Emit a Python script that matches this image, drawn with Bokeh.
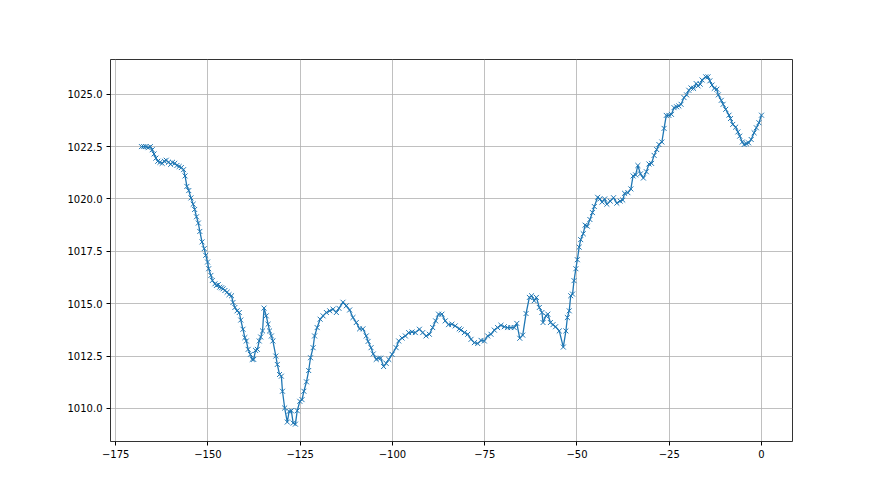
from bokeh.plotting import figure
from bokeh.models import Range1d, FixedTicker, CustomJSTickFormatter, ColumnDataSource
from bokeh.embed import file_html
from bokeh.resources import INLINE

hours = [
    -168.0, -167.4, -166.8, -166.2, -165.6, -165.1, -164.6, -164.1, -163.6, -163.0,
    -162.4, -161.8, -161.3, -160.7, -160.1, -159.6, -159.0, -158.4, -157.8, -157.2,
    -156.6, -156.2, -155.7, -155.2, -154.6, -154.0, -153.6, -153.1, -152.6, -152.2,
    -151.6, -151.0, -150.6, -150.1, -149.8, -149.2, -148.8, -148.1, -147.7, -147.2,
    -146.8, -146.3, -145.9, -145.4, -144.8, -144.3, -143.6, -143.2, -142.7, -142.1,
    -141.5, -141.1, -140.5, -140.0, -139.6, -139.1, -138.5, -138.0, -137.6, -137.1,
    -136.6, -136.1, -135.7, -135.2, -134.8, -134.2, -133.7, -133.3, -132.8, -132.4,
    -131.6, -131.2, -130.6, -130.1, -129.8, -129.2, -128.5, -128.0, -127.4, -126.9,
    -126.3, -125.8, -125.1, -124.5, -124.0, -123.3, -122.7, -122.2, -121.5, -121.1,
    -120.4, -119.6, -118.8, -117.9, -117.0, -116.1, -115.2, -114.5, -113.4, -112.5,
    -111.6, -110.7, -109.8, -108.9, -108.0, -107.1, -106.6, -105.8, -105.2, -104.4,
    -103.8, -103.2, -102.4, -101.7, -101.0, -100.1, -99.0, -98.3, -97.4, -96.5,
    -95.6, -94.7, -93.8, -92.7, -91.8, -90.9, -90.0, -89.1, -88.3, -87.5,
    -86.6, -85.7, -84.8, -83.9, -83.0, -81.9, -81.4, -80.5, -79.6, -78.7,
    -77.8, -76.9, -76.0, -75.1, -74.2, -73.3, -72.4, -71.5, -70.6, -69.7,
    -68.8, -67.9, -67.0, -66.3, -65.5, -64.7, -63.8, -62.9, -62.3, -61.6,
    -61.0, -60.2, -59.5, -59.2, -58.4, -57.9, -57.2, -56.5, -55.8, -54.8,
    -53.7, -53.0, -52.6, -52.1, -51.7, -51.2, -50.8, -50.3, -49.9, -49.4,
    -49.0, -48.3, -47.8, -47.2, -46.5, -45.8, -45.3, -44.4, -43.8, -43.2,
    -42.5, -41.9, -41.0, -40.1, -39.2, -38.3, -37.6, -37.1, -36.2, -35.4,
    -34.8, -34.1, -33.5, -32.8, -32.0, -31.2, -30.5, -29.8, -29.1, -28.4,
    -27.8, -27.0, -26.4, -25.8, -25.1, -24.4, -23.7, -23.0, -22.4, -21.8,
    -21.0, -20.3, -19.7, -19.1, -18.4, -17.7, -17.2, -16.6, -16.1, -15.1,
    -14.5, -14.0, -13.4, -12.8, -12.1, -11.7, -10.9, -10.4, -9.7, -8.8,
    -8.4, -7.8, -7.0, -6.4, -5.9, -5.2, -4.7, -4.1, -3.5, -2.8,
    -2.0, -1.4, -0.7, 0.0,
]

pressure = [
    1022.5, 1022.5, 1022.5, 1022.45, 1022.5, 1022.35, 1022.15, 1021.95, 1021.8, 1021.75,
    1021.7, 1021.8, 1021.85, 1021.75, 1021.65, 1021.75, 1021.7, 1021.6, 1021.55, 1021.5,
    1021.4, 1021.1, 1020.6, 1020.4, 1020.05, 1019.75, 1019.5, 1019.15, 1018.85, 1018.45,
    1017.95, 1017.63, 1017.31, 1016.99, 1016.67, 1016.35, 1016.11, 1015.95, 1015.87, 1015.91,
    1015.79, 1015.76, 1015.71, 1015.63, 1015.55, 1015.43, 1015.38, 1015.06, 1014.82, 1014.66,
    1014.58, 1014.22, 1013.78, 1013.38, 1013.22, 1012.82, 1012.58, 1012.34, 1012.34, 1012.77,
    1012.82, 1013.22, 1013.41, 1013.70, 1014.79, 1014.42, 1014.02, 1013.70, 1013.46, 1013.22,
    1012.50, 1012.10, 1011.62, 1011.54, 1010.82, 1010.02, 1009.35, 1009.86, 1009.89, 1009.30,
    1009.25, 1009.89, 1010.34, 1010.42, 1010.82, 1011.27, 1011.81, 1012.42, 1012.9, 1013.46,
    1013.86, 1014.26, 1014.42, 1014.58, 1014.66, 1014.74, 1014.58, 1014.78, 1015.07, 1014.9,
    1014.7, 1014.34, 1014.1, 1013.8, 1013.8, 1013.46, 1013.2, 1012.9, 1012.6, 1012.34,
    1012.4, 1012.4, 1012.0, 1012.15, 1012.34, 1012.58, 1012.9, 1013.22, 1013.36, 1013.46,
    1013.62, 1013.65, 1013.62, 1013.78, 1013.62, 1013.46, 1013.54, 1013.86, 1014.18, 1014.5,
    1014.5, 1014.18, 1014.0, 1014.02, 1013.94, 1013.8, 1013.75, 1013.62, 1013.54, 1013.3,
    1013.14, 1013.1, 1013.25, 1013.22, 1013.46, 1013.54, 1013.74, 1013.86, 1013.97, 1013.9,
    1013.86, 1013.86, 1013.86, 1014.06, 1013.35, 1013.5, 1014.53, 1015.3, 1015.38, 1015.14,
    1015.3, 1014.82, 1014.58, 1014.1, 1014.42, 1014.5, 1014.1, 1014.0, 1013.9, 1013.7,
    1012.93, 1013.7, 1014.34, 1014.66, 1015.38, 1015.46, 1016.1, 1016.67, 1017.1, 1017.7,
    1018.06, 1018.34, 1018.75, 1018.7, 1019.02, 1019.35, 1019.64, 1020.08, 1020.0, 1019.85,
    1020.0, 1019.75, 1019.9, 1020.06, 1019.8, 1019.9, 1019.95, 1020.27, 1020.3, 1020.48,
    1021.1, 1021.15, 1021.6, 1021.2, 1021.0, 1021.3, 1021.67, 1021.7, 1022.08, 1022.36,
    1022.6, 1022.72, 1023.37, 1023.99, 1023.99, 1024.04, 1024.36, 1024.4, 1024.44, 1024.52,
    1024.84, 1024.97, 1025.19, 1025.3, 1025.28, 1025.51, 1025.4, 1025.48, 1025.68, 1025.83,
    1025.83, 1025.64, 1025.44, 1025.28, 1025.24, 1024.97, 1024.71, 1024.52, 1024.28, 1024.0,
    1023.84, 1023.56, 1023.43, 1023.2, 1023.0, 1022.72, 1022.6, 1022.64, 1022.68, 1022.84,
    1023.16, 1023.4, 1023.64, 1024.0,
]

x_ticks = [-175, -150, -125, -100, -75, -50, -25, 0]
y_ticks = [1010.0, 1012.5, 1015.0, 1017.5, 1020.0, 1022.5, 1025.0]

# matplotlib-like 5% margins
xmin, xmax = min(hours), max(hours)
ymin, ymax = min(pressure), max(pressure)
xpad = (xmax - xmin) * 0.05
ypad = (ymax - ymin) * 0.05

p = figure(
    width=872, height=487,
    output_backend="svg", toolbar_location=None,
    x_range=Range1d(xmin - xpad, xmax + xpad),
    y_range=Range1d(ymin - ypad, ymax + ypad),
    min_border_left=110, min_border_right=80,
    min_border_top=59, min_border_bottom=46,
)
p.background_fill_color = "white"
p.border_fill_color = "white"
p.outline_line_color = "black"
p.outline_line_width = 1
p.outline_line_alpha = 0.8

src = ColumnDataSource(dict(x=hours, y=pressure))
p.line("x", "y", source=src, line_color="#1f77b4", line_width=1.3)
p.scatter("x", "y", source=src, marker="x", size=7, line_color="#1f77b4", line_width=1)

p.xaxis.ticker = FixedTicker(ticks=x_ticks)
p.yaxis.ticker = FixedTicker(ticks=y_ticks)
p.xaxis.formatter = CustomJSTickFormatter(code="return tick < 0 ? '\u2212' + Math.abs(tick) : String(tick);")
p.yaxis.formatter = CustomJSTickFormatter(code="return tick.toFixed(1);")

for ax in (p.xaxis, p.yaxis):
    ax.axis_line_color = None
    ax.major_tick_in = 0
    ax.major_tick_out = 4
    ax.major_tick_line_color = "black"
    ax.minor_tick_line_color = None
    ax.major_label_text_font = "DejaVu Sans"
    ax.major_label_text_font_size = "10px"
    ax.major_label_text_color = "black"
    ax.major_label_standoff = 4

p.grid.grid_line_color = "#b0b0b0"
p.grid.grid_line_width = 0.8

open("out.html", "w").write(file_html(p, INLINE))
